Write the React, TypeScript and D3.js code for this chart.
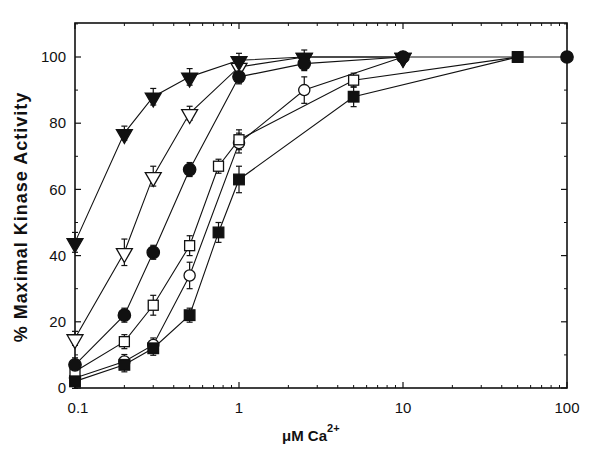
import * as d3 from "d3";

// Ca2+ concentrations (µM)
const concA = [0.1, 0.2, 0.3, 0.5, 1, 2.5, 10];
const concB = [0.1, 0.2, 0.3, 0.5, 1, 2.5, 10, 100];
const concC = [0.1, 0.2, 0.3, 0.5, 0.75, 1, 5, 50];

// % maximal kinase activity per series
const triFilled = [44, 77, 88, 94, 99, 100, 100];
const triFilledErr = [3, 2, 2.5, 2.5, 1.5, 1, 0];
const triOpen = [15, 41, 64, 83, 97, 100, 100];
const triOpenErr = [2, 4, 3, 1, 1, 0, 0];
const circFilled = [7, 22, 41, 66, 94, 98, 100, 100];
const circFilledErr = [1, 1, 2, 1, 1.5, 1, 0, 0];
const circOpen = [3, 8, 13, 34, 74, 90, 100];
const circOpenErr = [1, 1, 1, 4, 3, 4, 0];
const sqOpen = [5, 14, 25, 43, 67, 75, 93, 100];
const sqOpenErr = [1, 1, 3, 3, 2, 3, 2, 0];
const sqFilled = [2, 7, 12, 22, 47, 63, 88, 100];
const sqFilledErr = [1, 1, 1, 2, 3, 4, 3, 0];

const xTicks = [0.1, 1, 10, 100];
const xTickLabels = ["0.1", "1", "10", "100"];
const yTicks = [0, 20, 40, 60, 80, 100];

type Series = {
  conc: number[];
  vals: number[];
  errs: number[];
  shape: "triDown" | "circle" | "square";
  filled: boolean;
};

// drawing order: filled circles / squares last so they sit on top at the plateau
const series: Series[] = [
  { conc: concA, vals: triOpen, errs: triOpenErr, shape: "triDown", filled: false },
  { conc: concA, vals: triFilled, errs: triFilledErr, shape: "triDown", filled: true },
  { conc: concA, vals: circOpen, errs: circOpenErr, shape: "circle", filled: false },
  { conc: concC, vals: sqOpen, errs: sqOpenErr, shape: "square", filled: false },
  { conc: concC, vals: sqFilled, errs: sqFilledErr, shape: "square", filled: true },
  { conc: concB, vals: circFilled, errs: circFilledErr, shape: "circle", filled: true },
];

const width = 600;
const height = 450;
const left = 75;
const right = 567;
const top = 23;
const bottom = 388;

export default function App() {
  const x = d3.scaleLog([0.1, 100], [left, right]);
  const y = d3.scaleLinear([0, 100], [bottom, 57]);
  const yTopVal = y.invert(top);

  const line = d3
    .line<[number, number]>()
    .x((d) => x(d[0]))
    .y((d) => y(d[1]));

  // minor log ticks
  const minorX: number[] = [];
  for (const dec of [0.1, 1, 10]) {
    for (let k = 2; k <= 9; k++) minorX.push(dec * k);
  }
  const minorY = d3.range(10, yTopVal, 20);

  const marker = (s: Series, cx: number, cy: number, key: string) => {
    const fill = s.filled ? "#111" : "#fff";
    if (s.shape === "circle") {
      return <circle key={key} cx={cx} cy={cy} r={s.filled ? 6.2 : 5.6} fill={fill} stroke="#111" strokeWidth={1.3} />;
    }
    if (s.shape === "square") {
      const h = s.filled ? 5.3 : 5;
      return <rect key={key} x={cx - h} y={cy - h} width={2 * h} height={2 * h} fill={fill} stroke="#111" strokeWidth={1.3} />;
    }
    const sym = d3.symbol(d3.symbolTriangle, 110)();
    return (
      <path key={key} d={sym || ""} transform={`translate(${cx},${cy + 1}) rotate(180)`} fill={fill} stroke="#111" strokeWidth={1.3} />
    );
  };

  const tickLen = 6;

  return (
    <svg width={width} height={height} style={{ position: "absolute", left: 0, top: 0, background: "#fff" }}
      fontFamily="'Liberation Sans', Arial, sans-serif">
      {/* frame */}
      <rect x={left} y={top} width={right - left} height={bottom - top} fill="none" stroke="#111" strokeWidth={1.6} />

      {/* y ticks */}
      {yTicks.map((t) => (
        <g key={`y${t}`}>
          <line x1={left} x2={left + tickLen} y1={y(t)} y2={y(t)} stroke="#111" strokeWidth={1.2} />
          <line x1={right} x2={right - tickLen} y1={y(t)} y2={y(t)} stroke="#111" strokeWidth={1.2} />
          <text x={left - 9} y={y(t)} dy="0.35em" textAnchor="end" fontSize={15} fill="#111">{t}</text>
        </g>
      ))}
      {minorY.map((t) => (
        <g key={`my${t}`}>
          <line x1={left} x2={left + 3} y1={y(t)} y2={y(t)} stroke="#111" />
          <line x1={right} x2={right - 3} y1={y(t)} y2={y(t)} stroke="#111" />
        </g>
      ))}

      {/* x ticks */}
      {xTicks.map((t, i) => (
        <g key={`x${t}`}>
          <line x1={x(t)} x2={x(t)} y1={bottom} y2={bottom - tickLen} stroke="#111" strokeWidth={1.2} />
          <line x1={x(t)} x2={x(t)} y1={top} y2={top + tickLen} stroke="#111" strokeWidth={1.2} />
          <text x={x(t) + (i === 0 ? 3 : 0)} y={bottom + 25} textAnchor="middle" fontSize={15} fill="#111">{xTickLabels[i]}</text>
        </g>
      ))}
      {minorX.map((t) => (
        <g key={`mx${t}`}>
          <line x1={x(t)} x2={x(t)} y1={bottom} y2={bottom - 3} stroke="#111" />
          <line x1={x(t)} x2={x(t)} y1={top} y2={top + 3} stroke="#111" />
        </g>
      ))}

      {/* series lines */}
      {series.map((s, i) => (
        <path key={`l${i}`} d={line(s.conc.map((c, j) => [c, s.vals[j]] as [number, number])) || ""}
          fill="none" stroke="#111" strokeWidth={1.1} />
      ))}

      {/* error bars */}
      {series.map((s, i) =>
        s.conc.map((c, j) => {
          const e = s.errs[j];
          if (!e) return null;
          const cx = x(c);
          const yc = y(s.vals[j]);
          const yLo = Math.max(y(s.vals[j] - e), yc + 7);
          const yHi = Math.min(y(s.vals[j] + e), yc - 7);
          return (
            <g key={`e${i}-${j}`} stroke="#111" strokeWidth={1.2}>
              <line x1={cx} x2={cx} y1={yLo} y2={yHi} />
              <line x1={cx - 3} x2={cx + 3} y1={yLo} y2={yLo} />
              <line x1={cx - 3} x2={cx + 3} y1={yHi} y2={yHi} />
            </g>
          );
        })
      )}

      {/* markers */}
      {series.map((s, i) => s.conc.map((c, j) => marker(s, x(c), y(s.vals[j]), `m${i}-${j}`)))}

      {/* axis titles */}
      <text transform={`translate(27,217) rotate(-90)`} textAnchor="middle" fontSize={18}
        fontWeight="bold" fill="#111" letterSpacing={1}>% Maximal Kinase Activity</text>
      <text x={282} y={441} fontSize={15} fontWeight="bold" fill="#111">
        μM Ca<tspan dy={-9} fontSize={11}>2+</tspan>
      </text>
    </svg>
  );
}
